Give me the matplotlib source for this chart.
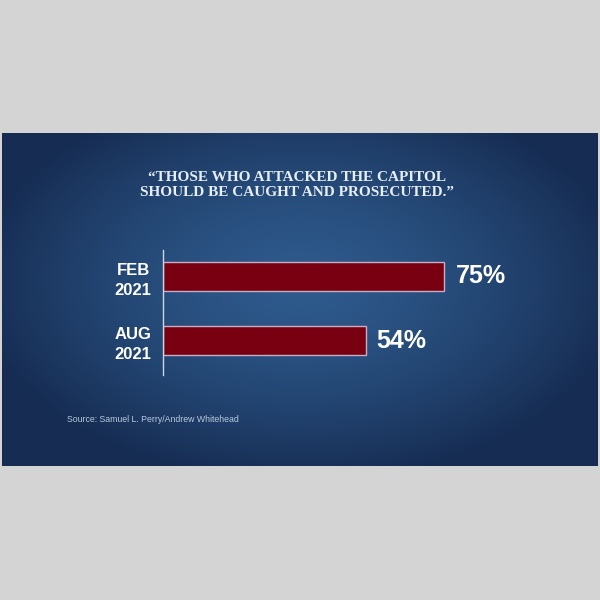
import numpy as np
import matplotlib
matplotlib.use("Agg")
import matplotlib.pyplot as plt

categories = ["FEB\n2021", "AUG\n2021"]
values = [75, 54]
value_labels = ["75%", "54%"]
title = "\u201cTHOSE WHO ATTACKED THE CAPITOL\nSHOULD BE CAUGHT AND PROSECUTED.\u201d"
source = "Source: Samuel L. Perry/Andrew Whitehead"

fig = plt.figure(figsize=(6, 6), dpi=100)
fig.patch.set_facecolor("#d4d4d4")

# background panel with soft radial gradient
bg = fig.add_axes([2/600, 1-466/600, 596/600, 333/600])
h, w = 333, 596
yy, xx = np.mgrid[0:h, 0:w]
cx, cy = w*0.5, h*0.45
r = np.sqrt(((xx-cx)/(w*0.55))**2 + ((yy-cy)/(h*0.6))**2)
t = np.clip(r, 0, 1)**1.5
inner = np.array([0x2e, 0x5a, 0x8c])/255
outer = np.array([0x16, 0x2c, 0x52])/255
img = inner[None, None, :]*(1-t[..., None]) + outer[None, None, :]*t[..., None]
bg.imshow(img, aspect="auto", extent=[0, 1, 0, 1])
bg.set_axis_off()

ax = fig.add_axes([163/600, 1-375/600, 0.625, 125/600])
ax.patch.set_alpha(0)
y = np.arange(len(categories))
ax.barh(y, values, height=0.45, color="#790011", edgecolor="#c8aec4", linewidth=1.0)
ax.set_xlim(0, 100)
ax.set_ylim(1.539, -0.414)
for s in ["top", "right", "bottom"]:
    ax.spines[s].set_visible(False)
ax.spines["left"].set_color("#c9d6e6")
ax.spines["left"].set_linewidth(1.0)
ax.set_xticks([])
ax.set_yticks(y)
ax.set_yticklabels(categories, color="white", fontweight="bold", fontsize=12,
                   family="Liberation Sans", linespacing=1.4, ha="center")
ax.tick_params(axis="y", length=0, pad=21.6)
for yi, v, lab in zip(y, values, value_labels):
    ax.text(v + 3, yi, lab, color="white", fontweight="bold", fontsize=18,
            family="Liberation Sans", va="center", ha="left")

fig.text(297/600, 1-185/600, title, color="#e6eef8", fontsize=11, fontweight="bold",
         family="Liberation Serif", ha="center", va="center", linespacing=1.25)
fig.text(67/600, 1-420/600, source, color="#b9c9dd", fontsize=6.3,
         family="Liberation Sans", ha="left", va="center")

fig.savefig("out.png", dpi=100, facecolor=fig.get_facecolor())
